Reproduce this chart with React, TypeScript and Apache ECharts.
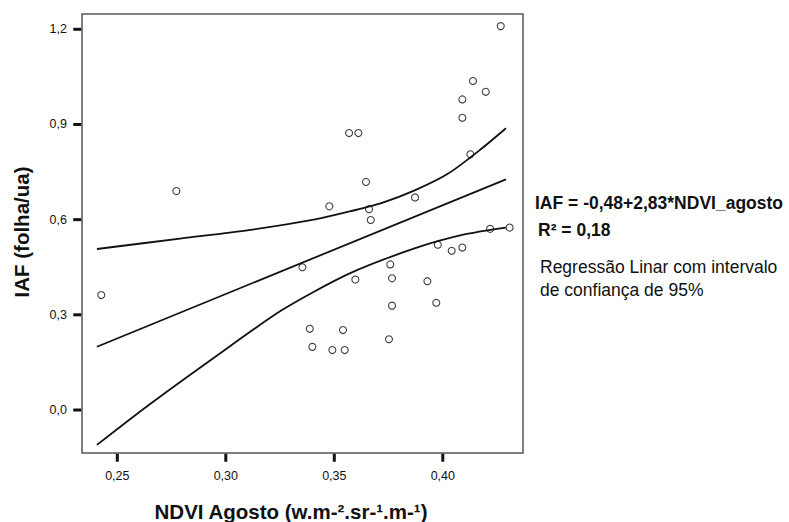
import React, { useEffect, useRef } from "react";
import * as echarts from "echarts";

// Scatter data: NDVI (August) vs IAF
const ndvi = [
  0.2426, 0.2772, 0.3477, 0.3568, 0.3611, 0.3646, 0.366, 0.3668, 0.4267, 0.4139,
  0.4198, 0.409, 0.409, 0.4127, 0.3872, 0.4218, 0.4308, 0.3353, 0.3977, 0.4041,
  0.409, 0.3758, 0.3597, 0.3766, 0.3929, 0.3766, 0.397, 0.3387, 0.354, 0.3752,
  0.3399, 0.3491, 0.3548,
];
const iaf = [
  0.3625, 0.69, 0.642, 0.873, 0.873, 0.719, 0.633, 0.599, 1.21, 1.037,
  1.003, 0.979, 0.921, 0.806, 0.67, 0.571, 0.575, 0.45, 0.521, 0.502,
  0.512, 0.459, 0.411, 0.415, 0.406, 0.329, 0.338, 0.256, 0.252, 0.223,
  0.199, 0.189, 0.189,
];

// Regression line endpoints (IAF = -0,48 + 2,83*NDVI)
const fitX = [0.2406, 0.4291];
const fitY = [0.1995, 0.727];

// 95% confidence band
const upperX = [0.2406, 0.2798, 0.3106, 0.3412, 0.3566, 0.372, 0.3873, 0.4027, 0.4181, 0.4291];
const upperY = [0.5075, 0.541, 0.567, 0.601, 0.625, 0.653, 0.693, 0.746, 0.825, 0.888];
const lowerX = [0.2406, 0.2645, 0.2952, 0.3259, 0.3566, 0.3873, 0.4104, 0.4291];
const lowerY = [-0.11, 0.0158, 0.168, 0.315, 0.429, 0.51, 0.554, 0.575];

// Tick values
const xTicks = [0.25, 0.3, 0.35, 0.4];
const yTicks = [0, 0.3, 0.6, 0.9, 1.2];

// Plot frame (data extent drawn as a box)
const FRAME_X = [0.23373, 0.43696];
const FRAME_Y = [-0.1355, 1.2482];
// Axis extents (frame plus room for the outward tick marks)
const X_MIN = 0.23004;
const X_MAX = 0.43788;
const Y_MIN = -0.16072;
const Y_MAX = 1.2545;

const FONT = "'Liberation Sans', Arial, Helvetica, sans-serif";
const INK = "#111";
const FRAME = "#555";
const TICK_LEN = 8;
const TICK_W = 3;

export default function App() {
  const ref = useRef<HTMLDivElement>(null);
  useEffect(() => {
    if (!ref.current) return;
    const chart = echarts.init(ref.current, null, { renderer: "svg" });
    const zip = (xs: number[], ys: number[]) => xs.map((x, i) => [x, ys[i]]);
    const lineStyle = { color: INK, width: 1.8 };
    const textGraphics = [
      {
        type: "text",
        x: 21,
        y: 232,
        rotation: Math.PI / 2,
        style: {
          text: "IAF (folha/ua)",
          font: `bold 20.5px ${FONT}`,
          fill: INK,
          textAlign: "center",
          textVerticalAlign: "middle",
        },
      },
      {
        type: "text",
        x: 291,
        y: 511,
        style: {
          text: "NDVI Agosto (w.m-².sr-¹.m-¹)",
          font: `bold 20.5px ${FONT}`,
          fill: INK,
          textAlign: "center",
          textVerticalAlign: "middle",
        },
      },
      {
        type: "text",
        x: 535,
        y: 203,
        style: {
          text: "IAF = -0,48+2,83*NDVI_agosto",
          font: `bold 17.5px ${FONT}`,
          fill: INK,
          textAlign: "left",
          textVerticalAlign: "middle",
        },
      },
      {
        type: "text",
        x: 538,
        y: 230,
        style: {
          text: "R² = 0,18",
          font: `bold 17.5px ${FONT}`,
          fill: INK,
          textAlign: "left",
          textVerticalAlign: "middle",
        },
      },
      {
        type: "text",
        x: 540,
        y: 267,
        style: {
          text: "Regressão Linar com intervalo",
          font: `17.5px ${FONT}`,
          fill: INK,
          textAlign: "left",
          textVerticalAlign: "middle",
        },
      },
      {
        type: "text",
        x: 540,
        y: 290,
        style: {
          text: "de confiança de 95%",
          font: `17.5px ${FONT}`,
          fill: INK,
          textAlign: "left",
          textVerticalAlign: "middle",
        },
      },
    ];
    chart.setOption({
      animation: false,
      backgroundColor: "#fff",
      grid: {
        left: 74,
        top: 12,
        right: 264,
        bottom: 61,
        show: false,
      },
      xAxis: {
        type: "value",
        min: X_MIN,
        max: X_MAX,
        splitLine: { show: false },
        axisLine: { show: false, onZero: false },
        axisTick: { show: false },
        axisLabel: {
          show: true,
          customValues: xTicks,
          margin: 8,
          fontSize: 12.5,
          fontFamily: FONT,
          color: INK,
          formatter: (v: number) => v.toFixed(2).replace(".", ","),
        },
      },
      yAxis: {
        type: "value",
        min: Y_MIN,
        max: Y_MAX,
        splitLine: { show: false },
        axisLine: { show: false, onZero: false },
        axisTick: { show: false },
        axisLabel: {
          show: true,
          customValues: yTicks,
          margin: 7,
          fontSize: 12.5,
          fontFamily: FONT,
          color: INK,
          formatter: (v: number) => v.toFixed(1).replace(".", ","),
        },
      },
      series: [
        {
          type: "line",
          data: zip(upperX, upperY),
          smooth: 0.25,
          showSymbol: false,
          lineStyle,
          z: 2,
        },
        {
          type: "line",
          data: zip(fitX, fitY),
          showSymbol: false,
          lineStyle,
          z: 2,
        },
        {
          type: "line",
          data: zip(lowerX, lowerY),
          smooth: 0.25,
          showSymbol: false,
          lineStyle,
          z: 2,
        },
        {
          type: "scatter",
          data: zip(ndvi, iaf),
          symbol: "circle",
          symbolSize: 7,
          itemStyle: { color: "rgba(0,0,0,0)", borderColor: INK, borderWidth: 1.1 },
          z: 3,
          markArea: {
            silent: true,
            itemStyle: { color: "rgba(0,0,0,0)", borderColor: FRAME, borderWidth: 1.5 },
            label: { show: false },
            data: [[{ coord: [FRAME_X[0], FRAME_Y[0]] }, { coord: [FRAME_X[1], FRAME_Y[1]] }]],
          },
        },
      ],
      graphic: textGraphics,
    });

    // Outward tick marks, positioned through the axes' own scales
    const tickGraphics: any[] = [];
    xTicks.forEach((v) => {
      const p = chart.convertToPixel({ gridIndex: 0 }, [v, FRAME_Y[0]]) as number[];
      if (p && isFinite(p[0])) {
        tickGraphics.push({
          type: "rect",
          z: 100,
          silent: true,
          shape: { x: p[0] - TICK_W / 2, y: p[1] + 0.75, width: TICK_W, height: TICK_LEN },
          style: { fill: INK },
        });
      }
    });
    yTicks.forEach((v) => {
      const p = chart.convertToPixel({ gridIndex: 0 }, [FRAME_X[0], v]) as number[];
      if (p && isFinite(p[1])) {
        tickGraphics.push({
          type: "rect",
          z: 100,
          silent: true,
          shape: { x: p[0] - 0.75 - TICK_LEN, y: p[1] - TICK_W / 2, width: TICK_LEN, height: TICK_W },
          style: { fill: INK },
        });
      }
    });
    chart.setOption({ graphic: [...textGraphics, ...tickGraphics] });

    return () => chart.dispose();
  }, []);
  return (
    <div
      ref={ref}
      style={{ position: "fixed", left: 0, top: 0, width: 789, height: 522, background: "#fff" }}
    />
  );
}
